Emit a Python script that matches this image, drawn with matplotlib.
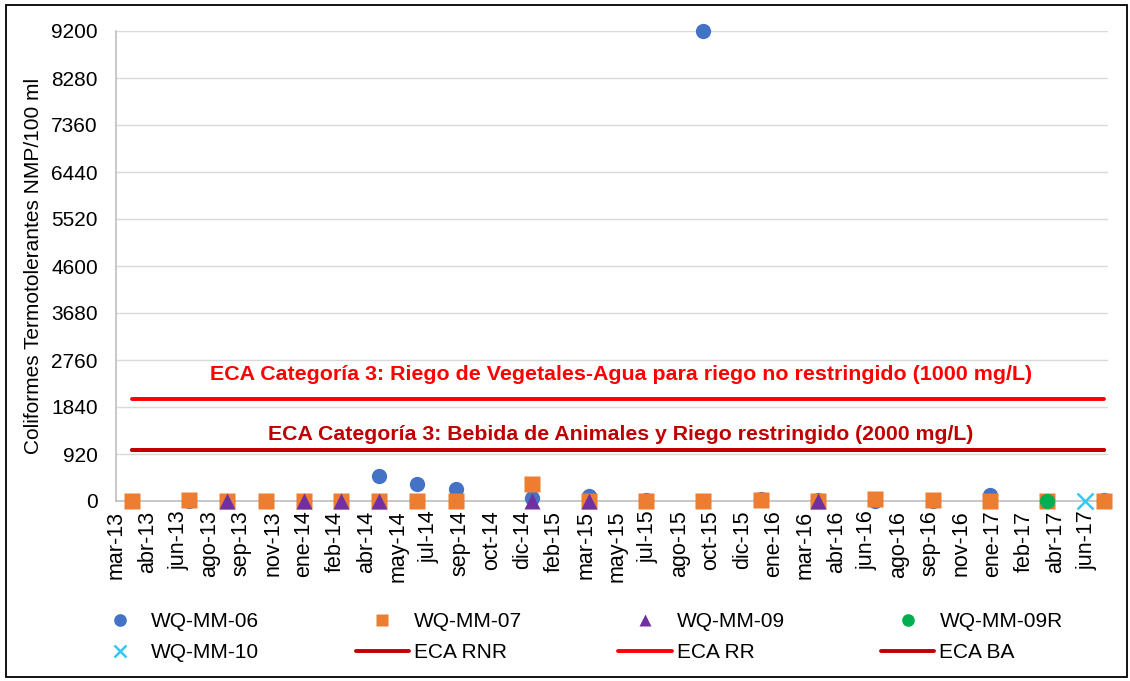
import numpy as np
import pandas as pd
import matplotlib
matplotlib.use("Agg")
import matplotlib.pyplot as plt
from matplotlib import font_manager
from matplotlib.patches import Rectangle

plt.rcParams['font.family'] = ['Liberation Sans', 'DejaVu Sans']

# fechas de muestreo (WQ-MM-06 / WQ-MM-07)
fechas = ['2013-04-01', '2013-07-01', '2013-09-01', '2013-11-01', '2014-01-01',
          '2014-03-01', '2014-05-01', '2014-07-01', '2014-09-01', '2015-01-01',
          '2015-04-01', '2015-07-01', '2015-10-01', '2016-01-01', '2016-04-01',
          '2016-07-01', '2016-10-01', '2017-01-01', '2017-04-01', '2017-07-01']
mm06 = [np.nan, 0, 0, 0, 0, 0, 489, 326, 229, 53, 98, 10, 9200, 40, 20, 0, 0, 117, np.nan, 20]
mm07 = [0, 25, 0, 0, 0, 0, 0, 0, 0, 326, 5, 0, 0, 20, 0, 30, 20, 0, 0, 0]

fechas_09 = ['2013-09-01', '2014-01-01', '2014-03-01', '2014-05-01', '2015-01-01',
             '2015-04-01', '2016-04-01']
mm09 = [0, 0, 0, 0, 0, 0, 0]
fechas_09r = ['2017-04-01']
mm09r = [0]
fechas_10 = ['2017-06-01']
mm10 = [0]

# estandares ECA
fechas_eca = ['2013-04-01', '2017-07-01']
eca_rnr = [1000, 1000]
eca_rr = [2000, 2000]
eca_ba = [1000, 1000]

etiquetas = ['mar-13', 'abr-13', 'jun-13', 'ago-13', 'sep-13', 'nov-13', 'ene-14', 'feb-14',
             'abr-14', 'may-14', 'jul-14', 'sep-14', 'oct-14', 'dic-14', 'feb-15', 'mar-15',
             'may-15', 'jul-15', 'ago-15', 'oct-15', 'dic-15', 'ene-16', 'mar-16', 'abr-16',
             'jun-16', 'ago-16', 'sep-16', 'nov-16', 'ene-17', 'feb-17', 'abr-17', 'jun-17']
yticks = [0, 920, 1840, 2760, 3680, 4600, 5520, 6440, 7360, 8280, 9200]

fig = plt.figure(figsize=(11.3, 6.81), dpi=100)
ax = fig.add_axes([116 / 1130, 1 - 501 / 681, (1108 - 116) / 1130, (501 - 31) / 681])

ms = 11
kw = dict(ls='none', mec='none', clip_on=False)
l06, = ax.plot(pd.to_datetime(fechas), mm06, marker='o', color='#4472C4', ms=ms, zorder=3, **kw)
l07, = ax.plot(pd.to_datetime(fechas), mm07, marker='s', color='#ED7D31', ms=ms, zorder=4, **kw)
l09, = ax.plot(pd.to_datetime(fechas_09), mm09, marker='^', color='#7030A0', ms=ms, zorder=5, **kw)
l09r, = ax.plot(pd.to_datetime(fechas_09r), mm09r, marker='o', color='#00B050', ms=ms, zorder=6, **kw)
l10, = ax.plot(pd.to_datetime(fechas_10), mm10, 'x', color='#33C8F4', ms=ms, mew=1.8,
               clip_on=False, zorder=7)

lkw = dict(lw=2.8, solid_capstyle='round', zorder=2)
lrnr, = ax.plot(pd.to_datetime(fechas_eca), eca_rnr, color='#C00000', **lkw)
lrr, = ax.plot(pd.to_datetime(fechas_eca), eca_rr, color='#FF0000', **lkw)
lba, = ax.plot(pd.to_datetime(fechas_eca), eca_ba, color='#C00000', **lkw)

# texto angosto en negrita; si no hay fuente "Narrow" se ajusta el tamano al ancho
try:
    font_manager.findfont('Liberation Sans Narrow', fallback_to_default=False)
    txt_font = ['Liberation Sans Narrow', 'DejaVu Sans']
except ValueError:
    txt_font = ['Liberation Sans', 'DejaVu Sans']

t1 = ax.text(pd.Timestamp('2015-05-22'), 2470,
             'ECA Categoría 3: Riego de Vegetales-Agua para riego no restringido (1000 mg/L)',
             color='#FF0000', fontsize=15, fontweight='bold', family=txt_font,
             ha='center', va='center')
t2 = ax.text(pd.Timestamp('2015-05-22'), 1310,
             'ECA Categoría 3: Bebida de Animales y Riego restringido (2000 mg/L)',
             color='#C00000', fontsize=15, fontweight='bold', family=txt_font,
             ha='center', va='center')

ax.set_xlim(pd.Timestamp('2013-03-07'), pd.Timestamp('2017-07-08'))
ax.set_ylim(0, 9200)
ax.set_xticks(pd.date_range('2013-03-07', periods=len(etiquetas), freq='50D'))
ax.set_xticklabels(etiquetas, rotation=90, fontsize=15.5)
ax.set_yticks(yticks)
ax.set_yticklabels([str(v) for v in yticks], fontsize=15)
ax.tick_params(axis='x', length=0, pad=7)
ax.tick_params(axis='y', length=0, pad=13)
ax.grid(axis='y', color='#D9D9D9', lw=1)
ax.set_axisbelow(True)
for s in ['top', 'right']:
    ax.spines[s].set_visible(False)
for s in ['left', 'bottom']:
    ax.spines[s].set_color('#BFBFBF')
    ax.spines[s].set_linewidth(1.2)
ax.set_ylabel('Coliformes Termotolerantes NMP/100 ml', fontsize=15, labelpad=6)

handles = [l06, l10, l07, lrnr, l09, lrr, l09r, lba]
labels = ['WQ-MM-06', 'WQ-MM-10', 'WQ-MM-07', 'ECA RNR', 'WQ-MM-09', 'ECA RR', 'WQ-MM-09R', 'ECA BA']
fig.legend(handles, labels, ncol=4, loc='upper left', bbox_to_anchor=(93 / 1130, 1 - 612 / 681),
           frameon=False, fontsize=15, borderpad=0, borderaxespad=0, handlelength=2.55,
           handletextpad=0.25, columnspacing=4.62, labelspacing=0.6, markerscale=0.83)

fig.patches.append(Rectangle((6 / 1130, 4 / 681), 1121 / 1130, 672 / 681, transform=fig.transFigure,
                             fill=False, edgecolor='black', lw=1.3))

if txt_font[0] != 'Liberation Sans Narrow':
    r = fig.canvas.get_renderer()
    for t, w in [(t1, 822), (t2, 705)]:
        t.set_fontsize(15 * w / t.get_window_extent(r).width)

fig.savefig('out.png', dpi=100)
